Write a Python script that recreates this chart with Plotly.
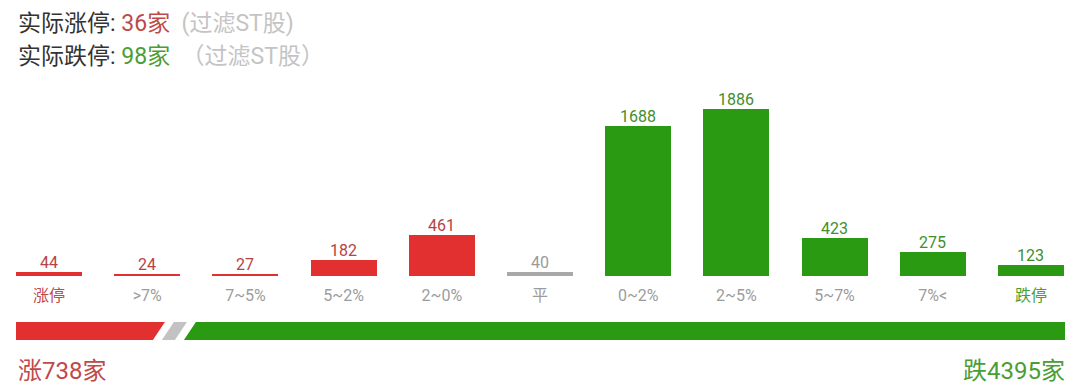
import plotly.graph_objects as go

# ---- data ----
categories = ["涨停", ">7%", "7~5%", "5~2%", "2~0%", "平", "0~2%", "2~5%", "5~7%", "7%<", "跌停"]
values = [44, 24, 27, 182, 461, 40, 1688, 1886, 423, 275, 123]
sides = ["up", "up", "up", "up", "up", "flat", "down", "down", "down", "down", "down"]
limit_up_real = 36
limit_down_real = 98
up_total = 738
down_total = 4395

# ---- styles ----
W, H = 1080, 391
BAR = {"up": "#e22f2f", "flat": "#a8a8a8", "down": "#2a9a12"}
VAL_TXT = {"up": "#b8423f", "flat": "#9a9a9a", "down": "#3f8f2c"}
RED_TXT = "#c0494a"
GREEN_TXT = "#4a9e33"
GRAY_TXT = "#9c9c9c"
FONT = "Roboto, 'Noto Sans CJK SC', sans-serif"

def px_x(p):
    return p / W

def px_y(p):
    return (H - p) / H

tick_colors = []
for c in categories:
    if c == "涨停":
        tick_colors.append(RED_TXT)
    elif c == "跌停":
        tick_colors.append(GREEN_TXT)
    else:
        tick_colors.append(GRAY_TXT)
ticktext = [f"<span style='color:{col}'>{c}</span>" for c, col in zip(categories, tick_colors)]

xs = list(range(len(categories)))
fig = go.Figure()
fig.add_trace(go.Bar(
    x=xs,
    y=values,
    width=0.672,
    marker=dict(color=[BAR[s] for s in sides], line=dict(width=0)),
    hoverinfo="skip",
))

# value labels above bars
for xi, v, s in zip(xs, values, sides):
    fig.add_annotation(
        x=xi, y=v, xref="x", yref="y", text=str(v), showarrow=False,
        xanchor="center", yanchor="bottom", yshift=-2,
        font=dict(size=16, color=VAL_TXT[s], family=FONT),
    )

baseline_px = 276
top_px = 80
scale = 0.0887  # px per unit
yr_max = (baseline_px - top_px) / scale

fig.update_layout(
    width=W, height=H,
    margin=dict(l=0, r=0, t=0, b=0),
    paper_bgcolor="white", plot_bgcolor="white",
    showlegend=False,
    bargap=0,
    font=dict(family=FONT),
    xaxis=dict(
        range=[-0.5, len(categories) - 0.5],
        tickvals=xs,
        ticktext=ticktext,
        tickfont=dict(size=16, color=GRAY_TXT, family=FONT),
        ticks="outside", ticklen=5, tickcolor="rgba(0,0,0,0)",
        showgrid=False, zeroline=False, showline=False,
        domain=[0, 1],
    ),
    yaxis=dict(
        range=[0, yr_max], visible=False,
        domain=[px_y(baseline_px), px_y(top_px)],
    ),
)

# ---- header text ----
fig.add_annotation(
    xref="paper", yref="paper", x=px_x(16), y=px_y(23), xanchor="left", yanchor="middle",
    showarrow=False, font=dict(size=23, color="#333333", family=FONT),
    text=(f"实际涨停: <span style='color:{RED_TXT}'>{limit_up_real}家</span>&nbsp; "
          f"<span style='color:#c4c4c4'>(过滤ST股)</span>"),
)
fig.add_annotation(
    xref="paper", yref="paper", x=px_x(16), y=px_y(57), xanchor="left", yanchor="middle",
    showarrow=False, font=dict(size=23, color="#333333", family=FONT),
    text=(f"实际跌停: <span style='color:{GREEN_TXT}'>{limit_down_real}家</span>&nbsp; "
          f"<span style='color:#c4c4c4'>（过滤ST股）</span>"),
)

# ---- bottom ratio bar (computed from up/down totals) ----
x0, x1 = 16, 1065
yt, yb = 322, 340
slant = 6  # half horizontal offset of slanted edges
gap = 9
gray_w = 13
avail = (x1 - x0) - (2 * gap + gray_w + 4 * slant)
red_len = avail * up_total / (up_total + down_total)
red_top_r = x0 + red_len + slant
red_bot_r = x0 + red_len - slant
g_top_l = red_top_r + gap
g_bot_l = red_bot_r + gap
g_top_r = g_top_l + gray_w
g_bot_r = g_bot_l + gray_w
gr_top_l = g_top_r + gap
gr_bot_l = g_bot_r + gap

def poly(pts):
    return "M " + " L ".join(f"{px_x(a):.5f},{px_y(b):.5f}" for a, b in pts) + " Z"

fig.add_shape(type="path", xref="paper", yref="paper", line=dict(width=0), fillcolor=BAR["up"],
              path=poly([(x0, yt), (red_top_r, yt), (red_bot_r, yb), (x0, yb)]))
fig.add_shape(type="path", xref="paper", yref="paper", line=dict(width=0), fillcolor="#c2c2c2",
              path=poly([(g_top_l, yt), (g_top_r, yt), (g_bot_r, yb), (g_bot_l, yb)]))
fig.add_shape(type="path", xref="paper", yref="paper", line=dict(width=0), fillcolor=BAR["down"],
              path=poly([(gr_top_l, yt), (x1, yt), (x1, yb), (gr_bot_l, yb)]))

fig.add_annotation(
    xref="paper", yref="paper", x=px_x(16), y=px_y(371), xanchor="left", yanchor="middle",
    showarrow=False, font=dict(size=24, color=RED_TXT, family=FONT),
    text=f"涨{up_total}家",
)
fig.add_annotation(
    xref="paper", yref="paper", x=px_x(1067), y=px_y(371), xanchor="right", yanchor="middle",
    showarrow=False, font=dict(size=24, color=GREEN_TXT, family=FONT),
    text=f"跌{down_total}家",
)

fig.write_html("out.html", config={"displayModeBar": False},
               post_script="document.body.style.margin='0';")
